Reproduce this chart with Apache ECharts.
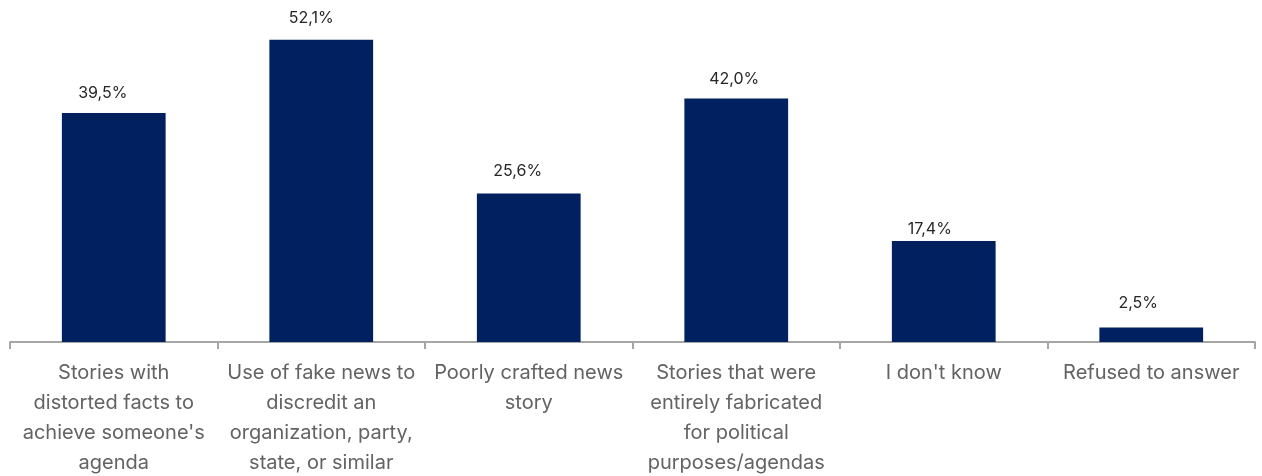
<!DOCTYPE html>
<html>
<head>
<meta charset="utf-8">
<script src="https://cdn.jsdelivr.net/npm/echarts@6/dist/echarts.min.js"></script>
<style>
  html, body { margin: 0; padding: 0; background: #fff; }
  #chart { width: 1262px; height: 476px; }
</style>
</head>
<body>
<div id="chart"></div>
<script>
// Answer categories (line breaks as shown under the axis)
const categories = [
  "Stories with\ndistorted facts to\nachieve someone's\nagenda",
  "Use of fake news to\ndiscredit an\norganization, party,\nstate, or similar",
  "Poorly crafted news\nstory",
  "Stories that were\nentirely fabricated\nfor political\npurposes/agendas",
  "I don't know",
  "Refused to answer"
];
// Share of respondents, %
const values = [39.5, 52.1, 25.6, 42.0, 17.4, 2.5];

// Hand-placed nudges of the value labels [dx, dy] in px
const labelNudges = [[-11, 0], [-10, -2], [-11, -2], [-2, 1], [-14, 8], [-13, -4]];

const seriesData = values.map((v, i) => ({
  value: v,
  label: { offset: labelNudges[i] }
}));

const chart = echarts.init(document.getElementById('chart'));
chart.setOption({
  animation: false,
  grid: {
    left: 10, right: 7, top: 23, bottom: 134,
    containLabel: false,
    outerBoundsMode: 'none'
  },
  xAxis: {
    type: 'category',
    data: categories,
    axisLine: { lineStyle: { color: '#a6a6a6', width: 2 } },
    axisTick: { show: true, length: 7, lineStyle: { color: '#a6a6a6', width: 2 } },
    axisLabel: {
      interval: 0,
      color: '#636363',
      fontFamily: 'Inter',
      fontSize: 20,
      lineHeight: 30,
      margin: 16
    }
  },
  yAxis: {
    type: 'value',
    min: 0,
    max: 55,
    show: false,
    splitLine: { show: false }
  },
  series: [{
    type: 'bar',
    data: seriesData,
    barWidth: '50%',
    itemStyle: { color: '#002060' },
    label: {
      show: true,
      position: 'top',
      distance: 12,
      color: '#262626',
      fontFamily: 'Inter',
      fontSize: 16,
      formatter: p => p.value.toFixed(1).replace('.', ',') + '%'
    }
  }]
});
</script>
</body>
</html>
